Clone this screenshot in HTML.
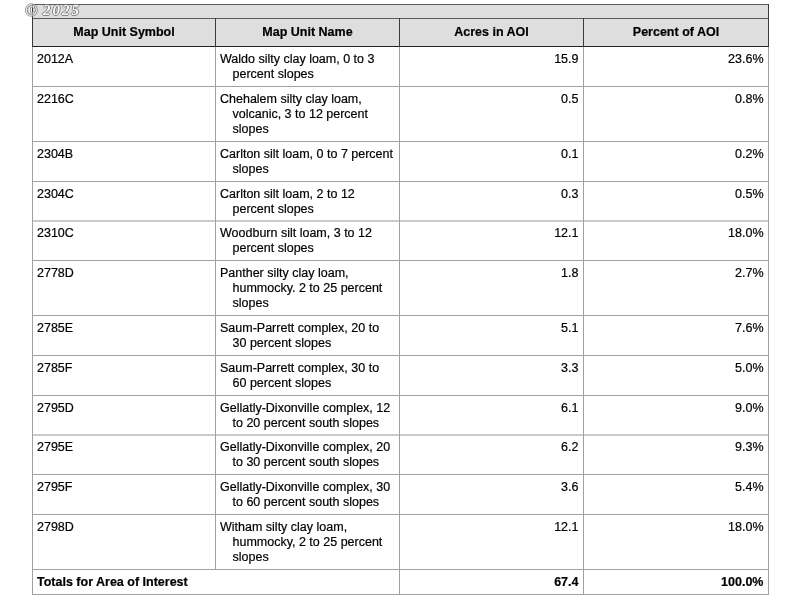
<!DOCTYPE html>
<html><head><meta charset="utf-8"><style>
html,body{margin:0;padding:0;background:#fff;width:800px;height:600px;overflow:hidden;position:relative}
.ln{position:absolute}
.hd{position:absolute;will-change:transform;-webkit-text-stroke:0.2px #000;font:bold 12.5px/15px "Liberation Sans",sans-serif;color:#000;text-align:center}
.tx{position:absolute;will-change:transform;-webkit-text-stroke:0.2px #000;font:12.5px/15px "Liberation Sans",sans-serif;color:#000;white-space:nowrap}
.nm{padding-left:12.5px;text-indent:-12.5px}
.r{text-align:right}
.b{font-weight:bold}
.wm{position:absolute;left:25px;top:2.6px;opacity:.85;font:italic bold 15px/15px "Liberation Serif",serif;color:#fff;text-shadow:-1px 0 #777,1px 0 #777,0 -1px #777,0 1px #777;white-space:nowrap;will-change:transform}
.wm .c{font-style:normal;font-size:16px;position:relative;top:0px;left:0.3px}
.wm span{letter-spacing:2.0px;margin-left:2.2px;position:relative;top:-0.7px}
</style></head><body>
<div class="ln" style="left:32px;top:4px;width:737px;height:43px;background:#dedede"></div>
<div class="ln" style="left:32px;top:4px;width:737px;height:1px;background:#5a5a5a"></div>
<div class="ln" style="left:32px;top:18px;width:737px;height:1px;background:#5a5a5a"></div>
<div class="ln" style="left:32px;top:46px;width:737px;height:1px;background:#222"></div>
<div class="ln" style="left:768px;top:4px;width:1px;height:43px;background:#3a3a3a"></div>
<div class="ln" style="left:32px;top:4px;width:1px;height:43px;background:#3a3a3a"></div>
<div class="ln" style="left:215px;top:18px;width:1px;height:29px;background:#3a3a3a"></div>
<div class="ln" style="left:399px;top:18px;width:1px;height:29px;background:#3a3a3a"></div>
<div class="ln" style="left:583px;top:18px;width:1px;height:29px;background:#3a3a3a"></div>
<div class="hd" style="left:33px;top:25.2px;width:182px">Map Unit Symbol</div>
<div class="hd" style="left:216px;top:25.2px;width:183px">Map Unit Name</div>
<div class="hd" style="left:400px;top:25.2px;width:183px">Acres in AOI</div>
<div class="hd" style="left:584px;top:25.2px;width:184px">Percent of AOI</div>
<div class="tx" style="left:36.5px;top:52.0px">2012A</div>
<div class="tx nm" style="left:219.5px;top:52.0px">Waldo silty clay loam, 0 to 3<br>percent slopes</div>
<div class="tx r" style="left:400px;top:52.0px;width:178.5px">15.9</div>
<div class="tx r" style="left:584px;top:52.0px;width:179.5px">23.6%</div>
<div class="tx" style="left:36.5px;top:92.0px">2216C</div>
<div class="tx nm" style="left:219.5px;top:92.0px">Chehalem silty clay loam,<br>volcanic, 3 to 12 percent<br>slopes</div>
<div class="tx r" style="left:400px;top:92.0px;width:178.5px">0.5</div>
<div class="tx r" style="left:584px;top:92.0px;width:179.5px">0.8%</div>
<div class="tx" style="left:36.5px;top:147.0px">2304B</div>
<div class="tx nm" style="left:219.5px;top:147.0px">Carlton silt loam, 0 to 7 percent<br>slopes</div>
<div class="tx r" style="left:400px;top:147.0px;width:178.5px">0.1</div>
<div class="tx r" style="left:584px;top:147.0px;width:179.5px">0.2%</div>
<div class="tx" style="left:36.5px;top:187.0px">2304C</div>
<div class="tx nm" style="left:219.5px;top:187.0px">Carlton silt loam, 2 to 12<br>percent slopes</div>
<div class="tx r" style="left:400px;top:187.0px;width:178.5px">0.3</div>
<div class="tx r" style="left:584px;top:187.0px;width:179.5px">0.5%</div>
<div class="tx" style="left:36.5px;top:226.0px">2310C</div>
<div class="tx nm" style="left:219.5px;top:226.0px">Woodburn silt loam, 3 to 12<br>percent slopes</div>
<div class="tx r" style="left:400px;top:226.0px;width:178.5px">12.1</div>
<div class="tx r" style="left:584px;top:226.0px;width:179.5px">18.0%</div>
<div class="tx" style="left:36.5px;top:266.0px">2778D</div>
<div class="tx nm" style="left:219.5px;top:266.0px">Panther silty clay loam,<br>hummocky. 2 to 25 percent<br>slopes</div>
<div class="tx r" style="left:400px;top:266.0px;width:178.5px">1.8</div>
<div class="tx r" style="left:584px;top:266.0px;width:179.5px">2.7%</div>
<div class="tx" style="left:36.5px;top:321.0px">2785E</div>
<div class="tx nm" style="left:219.5px;top:321.0px">Saum-Parrett complex, 20 to<br>30 percent slopes</div>
<div class="tx r" style="left:400px;top:321.0px;width:178.5px">5.1</div>
<div class="tx r" style="left:584px;top:321.0px;width:179.5px">7.6%</div>
<div class="tx" style="left:36.5px;top:361.0px">2785F</div>
<div class="tx nm" style="left:219.5px;top:361.0px">Saum-Parrett complex, 30 to<br>60 percent slopes</div>
<div class="tx r" style="left:400px;top:361.0px;width:178.5px">3.3</div>
<div class="tx r" style="left:584px;top:361.0px;width:179.5px">5.0%</div>
<div class="tx" style="left:36.5px;top:401.0px">2795D</div>
<div class="tx nm" style="left:219.5px;top:401.0px">Gellatly-Dixonville complex, 12<br>to 20 percent south slopes</div>
<div class="tx r" style="left:400px;top:401.0px;width:178.5px">6.1</div>
<div class="tx r" style="left:584px;top:401.0px;width:179.5px">9.0%</div>
<div class="tx" style="left:36.5px;top:440.0px">2795E</div>
<div class="tx nm" style="left:219.5px;top:440.0px">Gellatly-Dixonville complex, 20<br>to 30 percent south slopes</div>
<div class="tx r" style="left:400px;top:440.0px;width:178.5px">6.2</div>
<div class="tx r" style="left:584px;top:440.0px;width:179.5px">9.3%</div>
<div class="tx" style="left:36.5px;top:480.0px">2795F</div>
<div class="tx nm" style="left:219.5px;top:480.0px">Gellatly-Dixonville complex, 30<br>to 60 percent south slopes</div>
<div class="tx r" style="left:400px;top:480.0px;width:178.5px">3.6</div>
<div class="tx r" style="left:584px;top:480.0px;width:179.5px">5.4%</div>
<div class="tx" style="left:36.5px;top:520.0px">2798D</div>
<div class="tx nm" style="left:219.5px;top:520.0px">Witham silty clay loam,<br>hummocky, 2 to 25 percent<br>slopes</div>
<div class="tx r" style="left:400px;top:520.0px;width:178.5px">12.1</div>
<div class="tx r" style="left:584px;top:520.0px;width:179.5px">18.0%</div>
<div class="tx b" style="left:36.5px;top:575.0px">Totals for Area of Interest</div>
<div class="tx r b" style="left:400px;top:575.0px;width:178.5px">67.4</div>
<div class="tx r b" style="left:584px;top:575.0px;width:179.5px">100.0%</div>
<div class="ln" style="left:32px;top:86px;width:737px;height:1px;background:#a0a0a0"></div>
<div class="ln" style="left:32px;top:141px;width:737px;height:1px;background:#a0a0a0"></div>
<div class="ln" style="left:32px;top:181px;width:737px;height:1px;background:#a0a0a0"></div>
<div class="ln" style="left:32px;top:220px;width:737px;height:1px;background:#a0a0a0;opacity:.55"></div>
<div class="ln" style="left:32px;top:221px;width:737px;height:1px;background:#a0a0a0;opacity:.55"></div>
<div class="ln" style="left:32px;top:260px;width:737px;height:1px;background:#a0a0a0"></div>
<div class="ln" style="left:32px;top:315px;width:737px;height:1px;background:#a0a0a0"></div>
<div class="ln" style="left:32px;top:355px;width:737px;height:1px;background:#a0a0a0"></div>
<div class="ln" style="left:32px;top:395px;width:737px;height:1px;background:#a0a0a0"></div>
<div class="ln" style="left:32px;top:434px;width:737px;height:1px;background:#a0a0a0;opacity:.55"></div>
<div class="ln" style="left:32px;top:435px;width:737px;height:1px;background:#a0a0a0;opacity:.55"></div>
<div class="ln" style="left:32px;top:474px;width:737px;height:1px;background:#a0a0a0"></div>
<div class="ln" style="left:32px;top:514px;width:737px;height:1px;background:#a0a0a0"></div>
<div class="ln" style="left:32px;top:569px;width:737px;height:1px;background:#a0a0a0"></div>
<div class="ln" style="left:32px;top:594px;width:737px;height:1px;background:#a0a0a0"></div>
<div class="ln" style="left:32px;top:47px;width:1px;height:548px;background:#a0a0a0"></div>
<div class="ln" style="left:768px;top:47px;width:1px;height:548px;background:#a0a0a0"></div>
<div class="ln" style="left:399px;top:47px;width:1px;height:548px;background:#a0a0a0"></div>
<div class="ln" style="left:583px;top:47px;width:1px;height:548px;background:#a0a0a0"></div>
<div class="ln" style="left:215px;top:47px;width:1px;height:523px;background:#a0a0a0"></div>
<div class="wm"><i class="c">&copy;</i> <span>2025</span></div>
</body></html>
